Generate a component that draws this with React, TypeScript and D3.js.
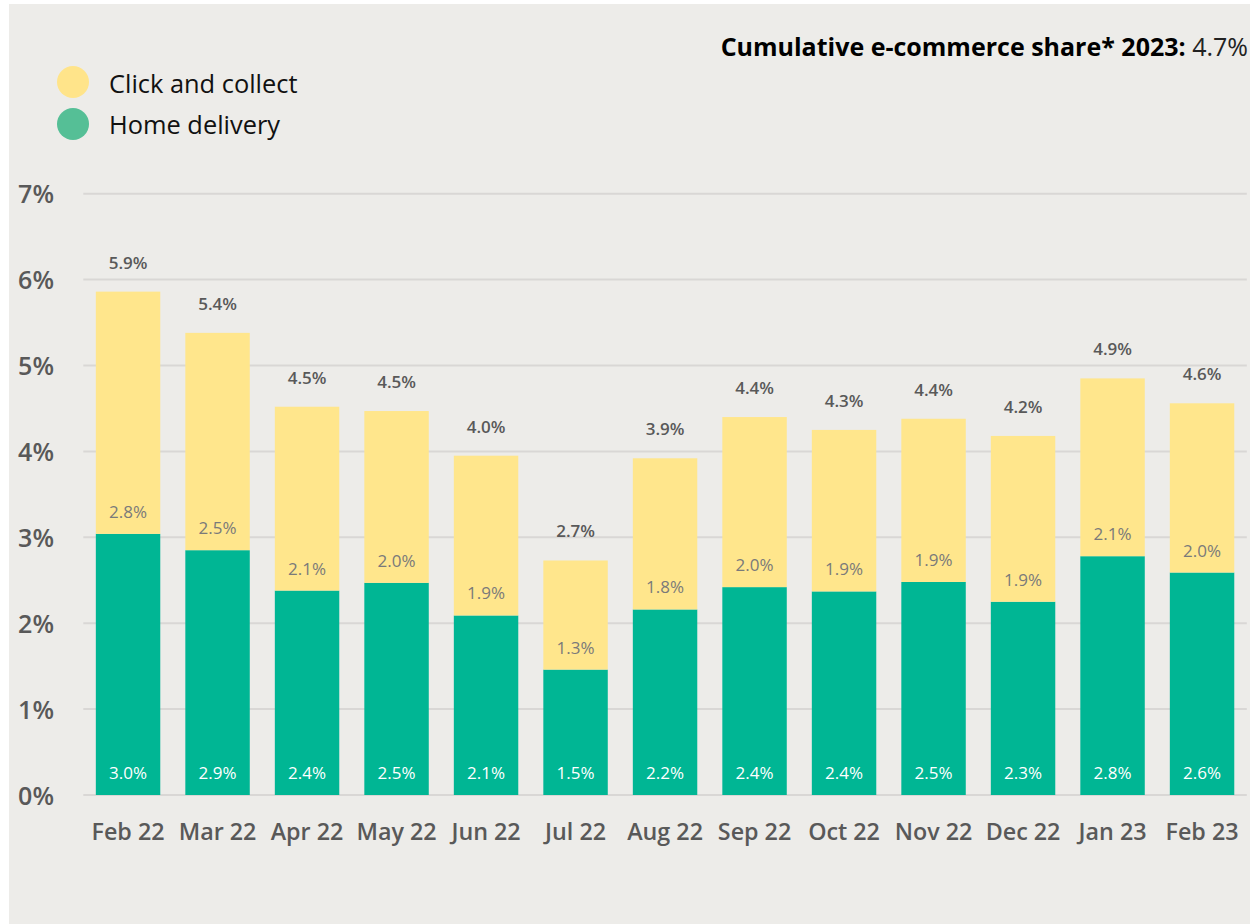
import React from "react";
import * as d3 from "d3";

const categories = ["Feb 22", "Mar 22", "Apr 22", "May 22", "Jun 22", "Jul 22", "Aug 22", "Sep 22", "Oct 22", "Nov 22", "Dec 22", "Jan 23", "Feb 23"];
const homeDelivery = [3.04, 2.85, 2.38, 2.47, 2.09, 1.46, 2.16, 2.42, 2.37, 2.48, 2.25, 2.78, 2.59];
const clickCollect = [2.82, 2.53, 2.14, 2.0, 1.86, 1.27, 1.76, 1.98, 1.88, 1.9, 1.93, 2.07, 1.97];
const homeLabels = ["3.0%", "2.9%", "2.4%", "2.5%", "2.1%", "1.5%", "2.2%", "2.4%", "2.4%", "2.5%", "2.3%", "2.8%", "2.6%"];
const clickLabels = ["2.8%", "2.5%", "2.1%", "2.0%", "1.9%", "1.3%", "1.8%", "2.0%", "1.9%", "1.9%", "1.9%", "2.1%", "2.0%"];
const totalLabels = ["5.9%", "5.4%", "4.5%", "4.5%", "4.0%", "2.7%", "3.9%", "4.4%", "4.3%", "4.4%", "4.2%", "4.9%", "4.6%"];
const yTicks = [0, 1, 2, 3, 4, 5, 6, 7];
const seriesNames = ["Click and collect", "Home delivery"];

const W = 1250;
const H = 924;
const FONT = "'Open Sans', 'Noto Sans', sans-serif";
const BG = "#EDECE9";
const GREEN = "#00B694";
const YELLOW = "#FFE68C";
const LEGEND_COLORS = ["#FFE48A", "#55BF96"];
const GREY = "#595959";

export default function App() {
  const x = d3.scaleBand<string>().domain(categories).range([83.3, 1246.8]).paddingInner(0.28).paddingOuter(0.14);
  const y = d3.scaleLinear().domain([0, 7]).range([795, 193.7]);
  const bw = x.bandwidth();

  return (
    <svg width={W} height={H} style={{ position: "absolute", left: 0, top: 0 }} fontFamily={FONT}>
      <rect x={0} y={0} width={W} height={H} fill="#ffffff" />
      <rect x={9} y={4} width={W - 9} height={H - 4} fill={BG} />

      {/* title */}
      <text x={1248} y={56} textAnchor="end" fontSize={25} fill="#000">
        <tspan fontWeight={700}>Cumulative e-commerce share* 2023: </tspan>
        <tspan fontWeight={400} fill="#222">4.7%</tspan>
      </text>

      {/* legend */}
      {seriesNames.map((n, i) => (
        <g key={n}>
          <circle cx={73} cy={82 + i * 42} r={16} fill={LEGEND_COLORS[i]} />
          <text x={109} y={92.5 + i * 41} fontSize={25.4} fill="#111">{n}</text>
        </g>
      ))}

      {/* grid + y ticks */}
      {yTicks.map((t) => (
        <g key={t}>
          <line x1={83.3} x2={1246.8} y1={y(t)} y2={y(t)} stroke="#D9D7D5" strokeWidth={2} />
          <text x={54} y={y(t) + 9.5} textAnchor="end" fontSize={25} fontWeight={600} fill={GREY}>{t}%</text>
        </g>
      ))}

      {/* bars */}
      {categories.map((c, i) => {
        const x0 = x(c)!;
        const cx = x0 + bw / 2;
        const hTop = y(homeDelivery[i]);
        const tTop = y(homeDelivery[i] + clickCollect[i]);
        return (
          <g key={c}>
            <rect x={x0} y={hTop} width={bw} height={y(0) - hTop} fill={GREEN} />
            <rect x={x0} y={tTop} width={bw} height={hTop - tTop} fill={YELLOW} />
            <text x={cx} y={y(0) - 16} textAnchor="middle" fontSize={17} fill="#fff">{homeLabels[i]}</text>
            <text x={cx} y={hTop - 16} textAnchor="middle" fontSize={17} fill="#7a7a7a">{clickLabels[i]}</text>
            <text x={cx} y={tTop - 23} textAnchor="middle" fontSize={17} fontWeight={600} fill={GREY}>{totalLabels[i]}</text>
            <text x={cx} y={839.5} textAnchor="middle" fontSize={23.3} fontWeight={600} fill={GREY}>{c}</text>
          </g>
        );
      })}
    </svg>
  );
}
